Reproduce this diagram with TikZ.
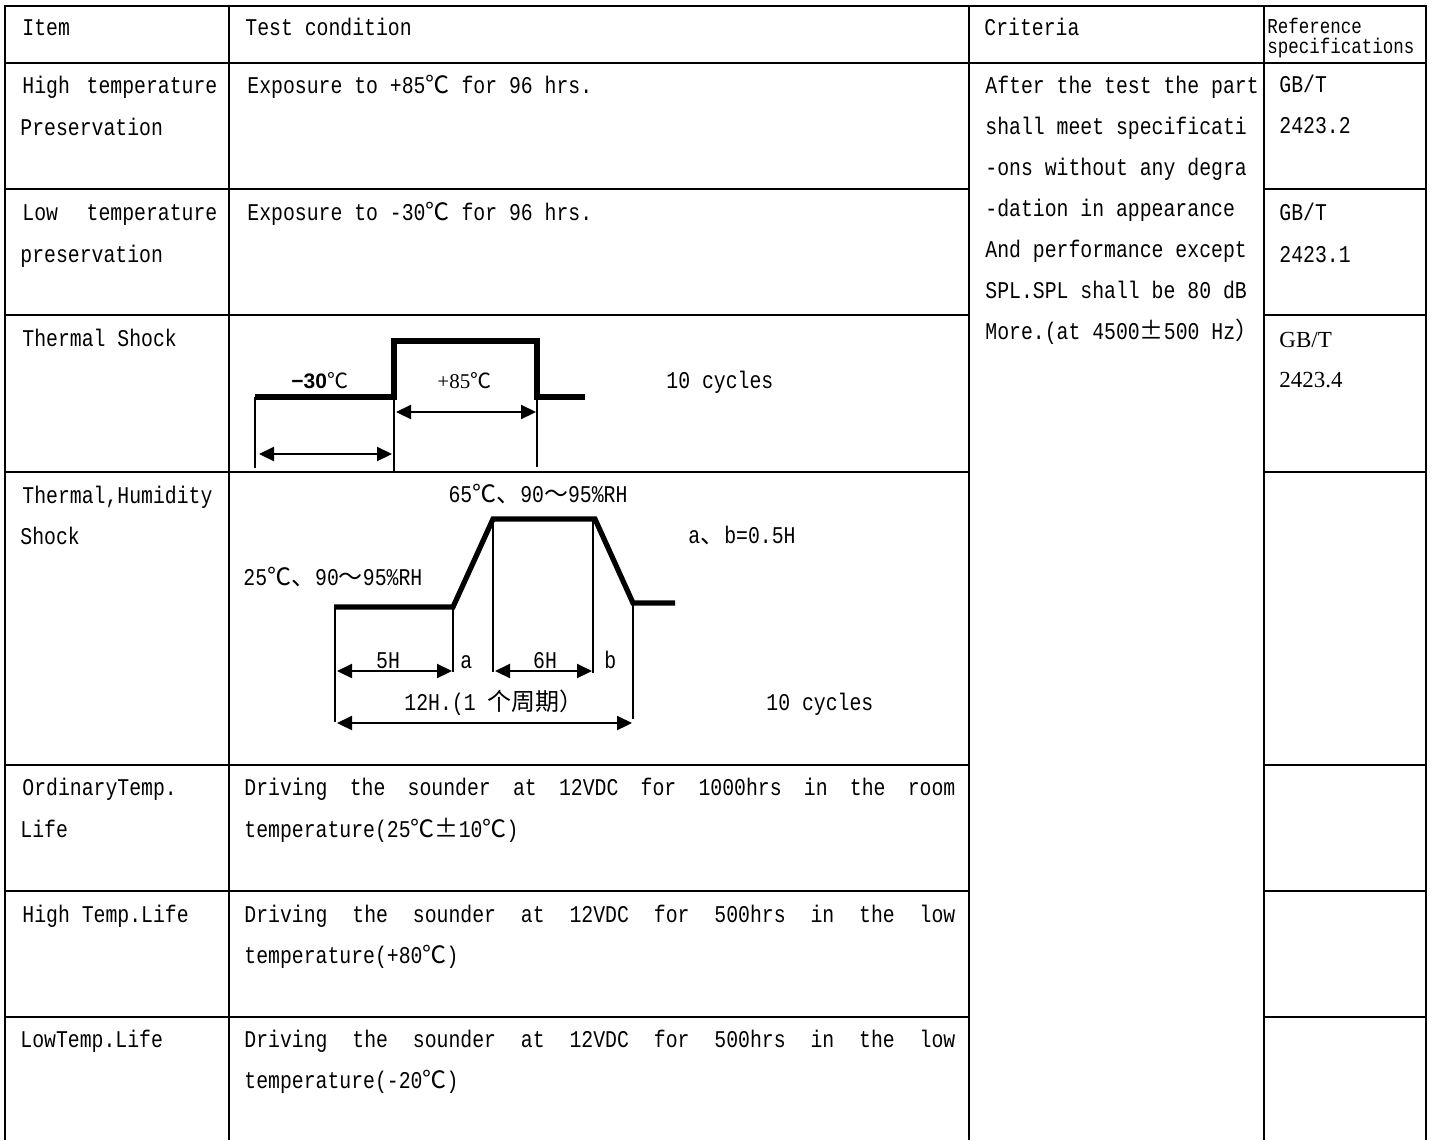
\documentclass[tikz,border=0pt]{standalone}
\usepackage{fontspec}
\setmainfont[FakeStretch=0.825]{Liberation Mono}
\newfontfamily\cjk{Noto Sans CJK SC}
\newfontfamily\serifnum{Liberation Serif}
\newfontfamily\sansnum{Liberation Sans}
\usetikzlibrary{arrows.meta,calc,positioning}
\newcommand{\dgc}{{\cjk ℃}}
\tikzset{
  rule/.style={line width=0.8pt},
  txt/.style={anchor=base west,inner sep=0pt,font=\fontsize{12}{12}\selectfont},
  reftxt/.style={txt,font=\fontsize{10.6}{10}\selectfont},
  profile/.style={line width=2.6pt},
  guide/.style={line width=0.8pt},
  span/.style={line width=1.1pt,{Triangle[length=7.5pt,width=7pt]}-{Triangle[length=7.5pt,width=7pt]}},
}

\begin{document}
\begin{tikzpicture}[x=0.5pt,y=-0.5pt]
\useasboundingbox (0,0) rectangle (1433,1140);

% table rules
\draw[rule] (5,1140) -- (5,6) -- (1426,6) -- (1426,1140);
\foreach \cx in {229,969,1264} \draw[rule] (\cx,6) -- (\cx,1140);
\draw[rule] (5,63) -- (1426,63);
\foreach \ry in {189,315,472,765,891,1017} {
  \draw[rule] (5,\ry) -- (969,\ry);
  \draw[rule] (1264,\ry) -- (1426,\ry);
}

% header
\node[txt] (hitem) at (22,35) {Item};
\node[txt] (htest) at (245,35) {Test condition};
\node[txt] (hcrit) at (984,35) {Criteria};
\node[reftxt] (href1) at (1267,33) {Reference};
\node[reftxt] (href2) at (1267,53) {specifications};

% criteria column
\foreach \ln [count=\k from 0] in {After the test the part,shall meet specificati,-ons without any degra,
  -dation in appearance,And performance except,SPL.SPL shall be 80 dB,More.(at 4500{\cjk ±}500 Hz{\cjk ）}}
  \node[txt] (crit\k) at (985,{93+41*\k}) {\ln};

% high / low temperature preservation
\node[txt] (hip1) at (22,93) {\makebox[97.5pt][l]{High\hfill temperature}};
\node[txt] (hip2) at (20,135) {Preservation};
\node[txt] (hipc) at (247,93) {Exposure to +85\dgc{} for 96 hrs.};
\node[txt] (hipr1) at (1279,92) {GB/T};
\node[txt] (hipr2) at (1279,133) {2423.2};
\node[txt] (lop1) at (22,220) {\makebox[97.5pt][l]{Low\hfill temperature}};
\node[txt] (lop2) at (20,262) {preservation};
\node[txt] (lopc) at (247,220) {Exposure to -30\dgc{} for 96 hrs.};
\node[txt] (lopr1) at (1279,220) {GB/T};
\node[txt] (lopr2) at (1279,262) {2423.1};

% thermal shock
\node[txt] (tsh) at (22,346) {Thermal Shock};
\coordinate (ts0) at (255,397);
\coordinate (ts1) at (394,397);
\coordinate (ts2) at (394,341);
\coordinate (ts3) at (537,341);
\coordinate (ts4) at (537,397);
\coordinate (ts5) at (585,397);
\draw[profile] (ts0) -- (ts1) -- (ts2) -- (ts3) -- (ts4) -- (ts5);
\draw[guide] (ts0) -- (255,468);
\draw[guide] (ts1) -- (394,472);
\draw[guide] (ts4) -- (537,467);
\coordinate (tsa0) at (259,454);
\coordinate (tsa1) at (392,454);
\coordinate (tsb0) at (396,412);
\coordinate (tsb1) at (536,412);
\draw[span] (tsa0) -- (tsa1);
\draw[span] (tsb0) -- (tsb1);
\node[txt,font=\sansnum\bfseries\fontsize{10.5}{10}\selectfont] (tslow) at (291,388) {−30{\mdseries\cjk ℃}};
\node[txt,font=\serifnum\fontsize{10.5}{10}\selectfont] (tshigh) at (437,388) {+85\dgc};
\node[txt] (tscyc) at (666,388) {10 cycles};
\node[txt,font=\serifnum\fontsize{11.5}{11}\selectfont] (tsr1) at (1279,347) {GB/T};
\node[txt,font=\serifnum\fontsize{11.5}{11}\selectfont] (tsr2) at (1279,387) {2423.4};

% thermal, humidity shock
\node[txt] (hum1) at (22,503) {Thermal,Humidity};
\node[txt] (hum2) at (20,544) {Shock};
\coordinate (hu0) at (334,607);
\coordinate (hu1) at (453,607);
\coordinate (hu2) at (493,519);
\coordinate (hu3) at (595,519);
\coordinate (hu4) at (633,603);
\coordinate (hu5) at (675,603);
\draw[profile] (hu0) -- (hu1) -- (hu2) -- (hu3) -- (hu4) -- (hu5);
\draw[guide] (335,607) -- (335,722);
\draw[guide] (hu1) -- (453,672);
\draw[guide] (hu2) -- (493,672);
\draw[guide] (593,519) -- (593,673);
\draw[guide] (hu4) -- (633,719);
\coordinate (hua0) at (337,671);
\coordinate (hua1) at (452,671);
\coordinate (hub0) at (495,671);
\coordinate (hub1) at (592,671);
\coordinate (huc0) at (337,723);
\coordinate (huc1) at (632,723);
\draw[span] (hua0) -- (hua1);
\draw[span] (hub0) -- (hub1);
\draw[span] (huc0) -- (huc1);
\node[txt,anchor=base] (hutop) at (538,502) {65\dgc{\cjk 、}90{\cjk ～}95\%RH};
\node[txt] (hulow) at (243,585) {25\dgc{\cjk 、}90{\cjk ～}95\%RH};
\node[txt] (huab) at (688,543) {a{\cjk 、}b=0.5H};
\node[txt,anchor=base] (hu5h) at (388,668) {5H};
\node[txt] (hua) at (460,668) {a};
\node[txt,anchor=base] (hu6h) at (545,668) {6H};
\node[txt] (hub) at (604,668) {b};
\node[txt,anchor=base] (hu12h) at (494,710) {12H.(1 {\cjk 个周期）}};
\node[txt] (hucyc) at (766,710) {10 cycles};

% life tests
\node[txt] (ord1) at (22,795) {OrdinaryTemp.};
\node[txt] (ord2) at (20,837) {Life};
\node[txt] (ordc1) at (244,795) {\makebox[355.5pt][l]{Driving\hfill the\hfill sounder\hfill at\hfill 12VDC\hfill for\hfill 1000hrs\hfill in\hfill the\hfill room}};
\node[txt] (ordc2) at (244,837) {temperature(25\dgc{\cjk ±}10\dgc)};
\node[txt] (hil1) at (22,922) {High Temp.Life};
\node[txt] (hilc1) at (244,922) {\makebox[355.5pt][l]{Driving\hfill the\hfill sounder\hfill at\hfill 12VDC\hfill for\hfill 500hrs\hfill in\hfill the\hfill low}};
\node[txt] (hilc2) at (244,963) {temperature(+80\dgc)};
\node[txt] (lol1) at (20,1047) {LowTemp.Life};
\node[txt] (lolc1) at (244,1047) {\makebox[355.5pt][l]{Driving\hfill the\hfill sounder\hfill at\hfill 12VDC\hfill for\hfill 500hrs\hfill in\hfill the\hfill low}};
\node[txt] (lolc2) at (244,1088) {temperature(-20\dgc)};
\end{tikzpicture}
\end{document}
